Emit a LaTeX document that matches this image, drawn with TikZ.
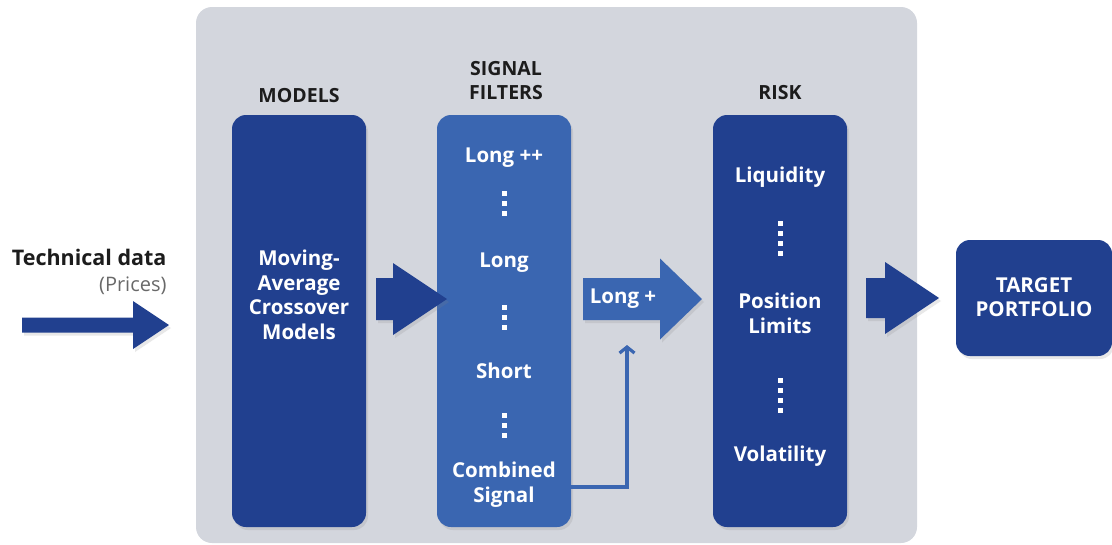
\documentclass[tikz,border=0pt]{standalone}
\usepackage{fontspec}
\setmainfont{Open Sans}
\usetikzlibrary{arrows.meta,shadows}

\definecolor{navy}{RGB}{33,64,143}
\definecolor{midblue}{RGB}{58,102,177}
\definecolor{panelgray}{RGB}{211,214,221}
\definecolor{inkgray}{RGB}{28,28,28}
\definecolor{softgray}{RGB}{105,105,105}

\tikzset{
  soft shadow/.style={drop shadow={opacity=0.18, shadow xshift=2pt, shadow yshift=-3pt}},
  column/.style={rounded corners=14pt, minimum width=134pt, minimum height=412pt, inner sep=0pt, soft shadow},
  header/.style={font=\bfseries\fontsize{19.5}{24}\selectfont, text=inkgray, align=center, anchor=base},
  item/.style={font=\bfseries\fontsize{20.5}{24.5}\selectfont, text=white, align=center, anchor=base},
}

% block arrow: colour, tail x, neck x, tip x, mid y, shaft half, head half
\newcommand{\blockarrow}[7]{%
  \fill[#1, soft shadow] (#2,#5-#6) -- (#3,#5-#6) -- (#3,#5-#7) -- (#4,#5)
    -- (#3,#5+#7) -- (#3,#5+#6) -- (#2,#5+#6) -- cycle;}

% column of square dots: x, first y, count
\newcommand{\dotcol}[3]{%
  \foreach \k in {1,...,#3} {\fill[white] (#1-2.5,#2+\k*10-12.5) rectangle ++(5,5);}}

\begin{document}
\begin{tikzpicture}[x=1pt, y=-1pt]
    \useasboundingbox (0,0) rectangle (1112,544);

    % Grey panel behind the pipeline
    \node[fill=panelgray, rounded corners=16pt, minimum width=721pt, minimum height=536pt, inner sep=0pt] (panel) at (556.5,275) {};

    % Input
    \node[font=\bfseries\fontsize{21.5}{24}\selectfont, text=inkgray, anchor=base east] (tech) at (170,265) {Technical data};
    \node[font=\fontsize{20}{24}\selectfont, text=softgray, anchor=base east] (prices) at (170,291) {(Prices)};
    \blockarrow{navy}{22}{133}{169}{325}{7.5}{24}

    % Column headers (base = last line)
    \node[header] (hmodels) at (299,102) {MODELS};
    \node[header] (hfilters) at (506,99) {SIGNAL\\FILTERS};
    \node[header] (hrisk) at (780,99) {RISK};

    % Columns
    \node[column, fill=navy] (models) at (299,321) {};
    \node[column, fill=midblue] (filters) at (504,321) {};
    \node[column, fill=navy] (risk) at (780,321) {};
    \node[fill=navy, rounded corners=14pt, minimum width=156pt, minimum height=116pt, soft shadow] (target) at (1034,298) {};

    % Models column
    \node[item] (mavg) at (299,339) {Moving-\\Average\\Crossover\\Models};

    % Signal filter column
    \node[item] (longpp) at (504,162) {Long ++};
    \dotcol{504}{193}{3}
    \node[item] (long) at (504,267) {Long};
    \dotcol{504}{307}{3}
    \node[item] (short) at (504,378) {Short};
    \dotcol{504}{415}{3}
    \node[item] (comb) at (504,502) {Combined\\Signal};

    % Risk column
    \node[item] (liq) at (780,182) {Liquidity};
    \dotcol{780}{223}{4}
    \node[item] (poslim) at (780,333) {Position\\Limits};
    \dotcol{780}{380}{4}
    \node[item] (vol) at (780,461) {Volatility};

    % Output
    \node[item, font=\bfseries\fontsize{20.5}{23.5}\selectfont] (tgt) at (1034,316) {TARGET\\PORTFOLIO};

    % Block arrows between stages
    \blockarrow{navy}{376}{393}{447}{299}{21}{36}
    \blockarrow{midblue}{583}{660}{702}{299}{21}{40.5}
    \node[item] (longp) at (623,303) {Long +};
    \blockarrow{navy}{866}{885}{939}{298}{20}{36}

    % Feedback from combined signal
    \coordinate (fb) at (627,345);
    \draw[midblue, line width=3.2pt, -{Straight Barb[length=6pt,width=15pt]}] (filters.east |- 0,487) -| (fb);
\end{tikzpicture}
\end{document}
